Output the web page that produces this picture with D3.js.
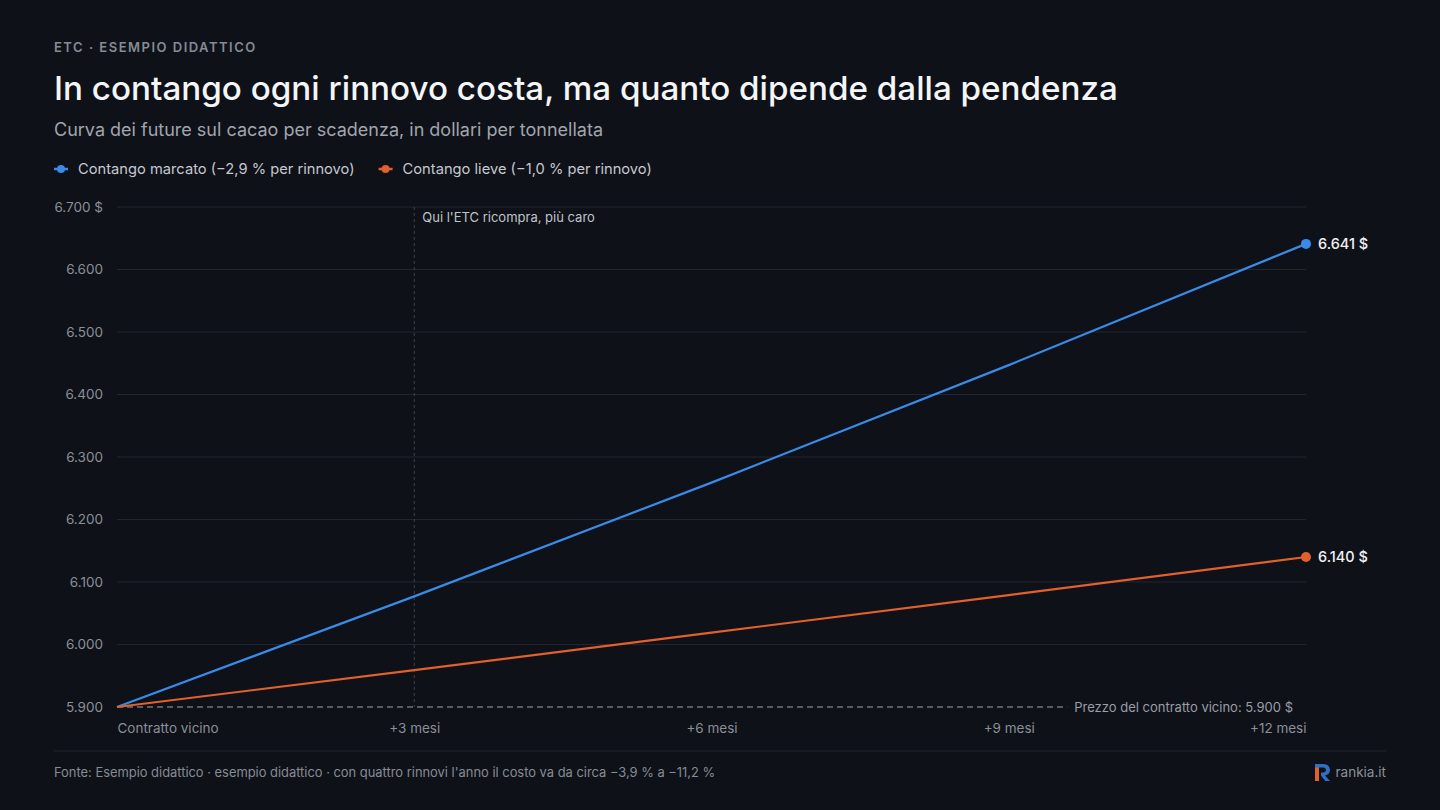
<!DOCTYPE html>
<html>
<head>
<meta charset="utf-8">
<script src="https://cdn.jsdelivr.net/npm/d3@7"></script>
<style>
  html, body { margin: 0; padding: 0; background: #0e1118; }
  body { width: 1440px; height: 810px; overflow: hidden; font-family: Inter, "Noto Sans", sans-serif; }
</style>
</head>
<body>
<div class="svg"></div>
<script>
// scadenze e valori della curva (dollari per tonnellata)
const scadenze = ["Contratto vicino", "+3 mesi", "+6 mesi", "+9 mesi", "+12 mesi"];
const marcato = [5900, 6077, 6259, 6447, 6641];
const lieve = [5900, 5959, 6019, 6079, 6140];
const yTicks = [5900, 6000, 6100, 6200, 6300, 6400, 6500, 6600, 6700];
const prezzoVicino = 5900;
const serie = [
  { nome: "Contango marcato (\u22122,9 % per rinnovo)", valori: marcato, colore: "#3a8ae8" },
  { nome: "Contango lieve (\u22121,0 % per rinnovo)", valori: lieve, colore: "#e2602b" }
];

const width = 1440;
const height = 810;
const margin = { top: 207, right: 134, bottom: 103, left: 117 };

let svg = d3.select('.svg').append("svg").attr("width", width).attr("height", height);
svg.append("rect").attr("width", width).attr("height", height).attr("fill", "#0e1118");

// intestazione
svg.append("text").attr("x", 54).attr("y", 52)
  .attr("fill", "#868b95").attr("font-size", 13).attr("font-weight", 600)
  .attr("letter-spacing", "1.5px")
  .text("ETC \u00b7 ESEMPIO DIDATTICO");
svg.append("text").attr("x", 54).attr("y", 100)
  .attr("fill", "#f4f5f7").attr("font-size", 33.2).attr("font-weight", 500)
  .text("In contango ogni rinnovo costa, ma quanto dipende dalla pendenza");
svg.append("text").attr("x", 54).attr("y", 136)
  .attr("fill", "#a1a5ad").attr("font-size", 18)
  .text("Curva dei future sul cacao per scadenza, in dollari per tonnellata");

// legenda
let lx = 54;
serie.forEach(function (s) {
  let lg = svg.append("g").attr("transform", "translate(" + lx + ",169)");
  lg.append("line").attr("x1", 0).attr("x2", 14).attr("stroke", s.colore).attr("stroke-width", 2.5);
  lg.append("circle").attr("cx", 7).attr("r", 4).attr("fill", s.colore);
  let t = lg.append("text").attr("x", 24).attr("y", 5).attr("fill", "#c5c8ce").attr("font-size", 14.7).text(s.nome);
  lx += 24 + t.node().getComputedTextLength() + 24;
});

let g = svg.append('g');

let scaleX = d3.scalePoint()
  .domain(scadenze)
  .range([margin.left, width - margin.right]);
let scaleY = d3.scaleLinear()
  .domain([5900, 6700])
  .range([height - margin.bottom, margin.top]);

// griglia
g.selectAll(".grid").data(yTicks.slice(1)).enter().append("line")
  .attr("x1", margin.left).attr("x2", width - margin.right)
  .attr("y1", d => scaleY(d)).attr("y2", d => scaleY(d))
  .attr("stroke", "#22262e").attr("stroke-width", 1);

// asse y
let axisY = d3.axisLeft(scaleY).tickValues(yTicks).tickSize(0).tickPadding(14)
  .tickFormat(function (d) {
    let s = d3.format(",")(d).replace(/,/g, ".");
    return d === 6700 ? s + " $" : s;
  });
let gy = g.append('g').attr('transform', 'translate(' + margin.left + ',0)').call(axisY);
gy.select(".domain").remove();
gy.selectAll("text").attr("fill", "#8a8f98").attr("font-size", 13.5).attr("font-family", "Inter, sans-serif");

// asse x
let axisX = d3.axisBottom(scaleX).tickSize(0).tickPadding(16);
let gx = g.append('g').attr('transform', 'translate(0,' + (height - margin.bottom) + ')').call(axisX);
gx.select(".domain").remove();
gx.selectAll("text").attr("fill", "#8a8f98").attr("font-size", 13.5).attr("font-family", "Inter, sans-serif")
  .attr("text-anchor", (d, i) => i === 0 ? "start" : (i === scadenze.length - 1 ? "end" : "middle"));

// linea verticale al primo rinnovo
g.append("line")
  .attr("x1", scaleX(scadenze[1])).attr("x2", scaleX(scadenze[1]))
  .attr("y1", scaleY(6700)).attr("y2", scaleY(5900))
  .attr("stroke", "#3e434c").attr("stroke-width", 1).attr("stroke-dasharray", "3,3");
g.append("text").attr("x", scaleX(scadenze[1]) + 8).attr("y", scaleY(6700) + 15)
  .attr("fill", "#c0c3c9").attr("font-size", 13)
  .text("Qui l'ETC ricompra, pi\u00f9 caro");

// prezzo del contratto vicino
let labPrezzo = g.append("text").attr("x", width - margin.right - 13).attr("y", scaleY(prezzoVicino) + 5)
  .attr("fill", "#9a9ea6").attr("font-size", 13).attr("text-anchor", "end")
  .text("Prezzo del contratto vicino: 5.900 $");
let wPrezzo = labPrezzo.node().getComputedTextLength();
g.append("line")
  .attr("x1", margin.left).attr("x2", width - margin.right - 13 - wPrezzo - 7)
  .attr("y1", scaleY(prezzoVicino)).attr("y2", scaleY(prezzoVicino))
  .attr("stroke", "#70747c").attr("stroke-width", 1.3).attr("stroke-dasharray", "6,4");

// linee
let line = d3.line().x((d, i) => scaleX(scadenze[i])).y(d => scaleY(d));
let gs = g.selectAll(".serie").data(serie).enter().append("g");
gs.append("path")
  .attr("d", d => line(d.valori))
  .attr("fill", "none").attr("stroke", d => d.colore).attr("stroke-width", 2.2);
gs.append("circle")
  .attr("cx", scaleX(scadenze[scadenze.length - 1]))
  .attr("cy", d => scaleY(d.valori[d.valori.length - 1]))
  .attr("r", 5).attr("fill", d => d.colore);
gs.append("text")
  .attr("x", scaleX(scadenze[scadenze.length - 1]) + 12)
  .attr("y", d => scaleY(d.valori[d.valori.length - 1]) + 5)
  .attr("fill", "#f1f2f4").attr("font-size", 14.5).attr("font-weight", 500)
  .text(d => d3.format(",")(d.valori[d.valori.length - 1]).replace(/,/g, ".") + " $");

// piede
svg.append("line").attr("x1", 54).attr("x2", 1386).attr("y1", 751).attr("y2", 751)
  .attr("stroke", "#22262e").attr("stroke-width", 1);
svg.append("text").attr("x", 54).attr("y", 777)
  .attr("fill", "#868b94").attr("font-size", 12.9)
  .text("Fonte: Esempio didattico \u00b7 esempio didattico \u00b7 con quattro rinnovi l'anno il costo va da circa \u22123,9 % a \u221211,2 %");

let logo = svg.append("g").attr("transform", "translate(1315,764)");
logo.append("rect").attr("x", 0).attr("y", 2).attr("width", 4).attr("height", 15).attr("fill", "#e2602b");
logo.append("path")
  .attr("d", "M0,0 H8 C13,0 15,3 15,6 C15,9 13,11 10,11.5 L15,17 H10.5 L6,11.8 V8.5 H8 C10,8.5 11,7.5 11,6 C11,4.5 10,3.5 8,3.5 H0 Z")
  .attr("fill", "#2f6fc4");
svg.append("text").attr("x", 1386).attr("y", 777).attr("text-anchor", "end")
  .attr("fill", "#8a8f98").attr("font-size", 13.5)
  .text("rankia.it");
</script>
</body>
</html>
